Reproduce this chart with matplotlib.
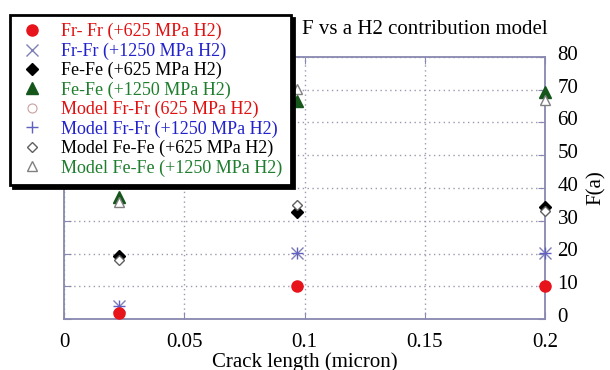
import matplotlib
matplotlib.use("Agg")
import matplotlib.pyplot as plt
import matplotlib.transforms as mtransforms

plt.rcParams['font.family'] = ['Liberation Serif', 'DejaVu Serif']

crack_length = [0.023, 0.097, 0.2]
frfr_625 = [1.8, 10.0, 10.0]
frfr_1250 = [4.0, 20.3, 20.3]
fefe_625 = [19.3, 32.8, 34.3]
fefe_1250 = [37.3, 66.6, 69.2]
model_frfr_625 = [1.8, 10.0, 10.0]
model_frfr_1250 = [4.0, 20.3, 20.3]
model_fefe_625 = [18.0, 34.9, 33.0]
model_fefe_1250 = [35.6, 70.3, 67.0]

labels = ["Fr- Fr (+625 MPa H2)", "Fr-Fr (+1250 MPa H2)", "Fe-Fe (+625 MPa H2)",
          "Fe-Fe (+1250 MPa H2)", "Model Fr-Fr (625 MPa H2)", "Model Fr-Fr (+1250 MPa H2)",
          "Model Fe-Fe (+625 MPa H2)", "Model Fe-Fe (+1250 MPa H2)"]
label_colors = ['#e01010', '#2222cc', 'black', '#1e7e2e', '#e01010', '#2222cc', 'black', '#1e7e2e']
x_ticks = [0, 0.05, 0.1, 0.15, 0.2]
x_ticklabels = ['0', '0.05', '0.1', '0.15', '0.2']
y_ticks = [0, 10, 20, 30, 40, 50, 60, 70, 80]

fig = plt.figure(figsize=(6.1, 3.7), dpi=100)
ax = fig.add_axes([64/610, 51/370, 481/610, 262/370])

series = [
    (frfr_625, dict(marker='o', ms=8, mfc='#e8141c', mec='#e8141c', ls='none')),
    (frfr_1250, dict(marker='x', ms=8, mec='#8080b8', mew=1.0, ls='none')),
    (fefe_625, dict(marker='D', ms=6, mfc='black', mec='black', ls='none')),
    (fefe_1250, dict(marker='^', ms=8, mfc='#15561b', mec='#15561b', ls='none')),
    (model_frfr_625, dict(marker='o', ms=6.5, mfc='none', mec='#c8a0a0', mew=0.8, ls='none')),
    (model_frfr_1250, dict(marker='+', ms=9, mec='#6060c0', mew=1.0, ls='none')),
    (model_fefe_625, dict(marker='D', ms=5.5, mfc='white', mec='#606060', mew=1.0, ls='none')),
    (model_fefe_1250, dict(marker='^', ms=7, mfc='white', mec='#808080', mew=1.0, ls='none')),
]
handles = []
for (vals, kw), lab in zip(series, labels):
    h, = ax.plot(crack_length, vals, label=lab, clip_on=False, zorder=3, **kw)
    handles.append(h)
# keep filled red circles on top of the open model circles
handles[0].set_zorder(4)

spine_c = '#8888b0'
ax.set_xlim(0, 0.2)
ax.set_ylim(0, 80)
ax.set_xticks(x_ticks)
ax.set_xticklabels(x_ticklabels)
ax.set_yticks(y_ticks)
for s in ax.spines.values():
    s.set_color(spine_c)
    s.set_linewidth(1.3)
ax.grid(True, color='#9a9ab0', linestyle=(0, (1, 2.5)), linewidth=1.0)
ax.tick_params(axis='both', direction='in', length=5, color=spine_c, labelsize=15,
               top=True, right=True, left=True, bottom=True)
ax.tick_params(axis='y', labelleft=False, labelright=True, pad=9)
ax.tick_params(axis='x', pad=10)
offset = mtransforms.ScaledTranslation(0, 4/100, fig.dpi_scale_trans)
for lbl in ax.get_yticklabels():
    lbl.set_transform(lbl.get_transform() + offset)

ax.set_xlabel('Crack length (micron)', fontsize=15, labelpad=0.5)
ax.yaxis.set_label_position('right')
ax.set_ylabel('F(a)', fontsize=15, labelpad=6)

fig.text(548/610, 1 - 30/370, 'F vs a H2 contribution model', ha='right', va='center', fontsize=15)

leg = ax.legend(handles=handles, loc='upper left', bbox_to_anchor=(10/610, 1 - 15/370),
                bbox_transform=fig.transFigure, fontsize=13, labelcolor=label_colors,
                frameon=True, fancybox=False, shadow={'color': 'black', 'alpha': 1},
                handlelength=1.5, handletextpad=0.9, borderpad=0.45, labelspacing=0.12,
                borderaxespad=0)
leg.get_frame().set_edgecolor('black')
leg.get_frame().set_linewidth(2)
leg.set_zorder(10)

fig.savefig('out.png', dpi=100)
